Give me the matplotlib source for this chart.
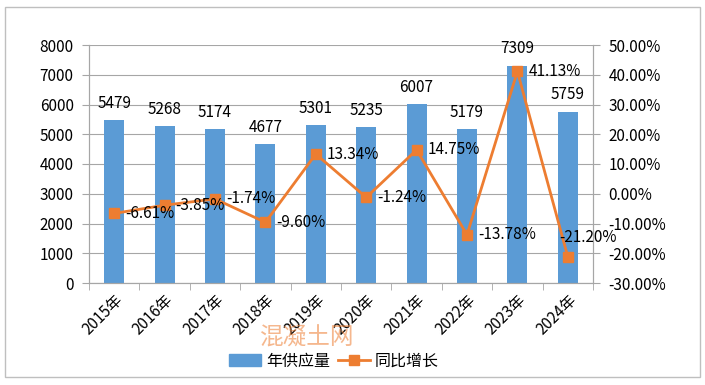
#!/usr/bin/env python3
"""Annual supply volume bars with year-on-year growth line."""

import matplotlib
matplotlib.use("Agg")
import matplotlib.pyplot as plt
from matplotlib.patches import Rectangle
from matplotlib.ticker import FuncFormatter, MultipleLocator

plt.rcParams["font.family"] = ["Noto Sans CJK SC", "DejaVu Sans"]

years = ["2015年", "2016年", "2017年", "2018年", "2019年",
         "2020年", "2021年", "2022年", "2023年", "2024年"]
supply = [5479, 5268, 5174, 4677, 5301, 5235, 6007, 5179, 7309, 5759]
growth = [-6.61, -3.85, -1.74, -9.60, 13.34, -1.24, 14.75, -13.78, 41.13, -21.20]

BAR = "#5B9BD5"
LINE = "#ED7D31"
GRID = "#A6A6A6"
FS = 11

fig = plt.figure(figsize=(7.05, 3.85), dpi=100)
fig.patches.append(Rectangle((5 / 705, 1 - 377 / 385), 695 / 705, 370 / 385,
                             transform=fig.transFigure, fill=False,
                             edgecolor="#BFBFBF", linewidth=1.0))

ax = fig.add_axes([89 / 705, 1 - 283 / 385, 504 / 705, 238 / 385])
ax2 = ax.twinx()

x = list(range(len(years)))
ax.bar(x, supply, width=0.4, color=BAR, zorder=2)
ax.set_xlim(-0.5, len(years) - 0.5)
ax.set_ylim(0, 8000)
ax.yaxis.set_major_locator(MultipleLocator(1000))
ax.grid(axis="y", color=GRID, linewidth=0.8, zorder=0)
ax.set_axisbelow(True)

ax.set_xticks(x)
ax.set_xticklabels(years, rotation=45, ha="right", rotation_mode="anchor", fontsize=FS)
ax.tick_params(axis="x", which="major", length=0, pad=6)
ax.set_xticks([i - 0.5 for i in range(len(years) + 1)], minor=True)
ax.tick_params(axis="x", which="minor", length=5, color=GRID)
ax.tick_params(axis="y", length=5, color=GRID, labelsize=FS, pad=6)

for s in ["top"]:
    ax.spines[s].set_visible(False)
    ax2.spines[s].set_visible(False)
for s in ["left", "right", "bottom"]:
    ax.spines[s].set_color(GRID)
    ax2.spines[s].set_color(GRID)

for xi, v in zip(x, supply):
    ax.annotate(str(v), (xi, v), xytext=(0, 6), textcoords="offset points",
                ha="center", va="bottom", fontsize=FS)

ax2.plot(x, growth, color=LINE, linewidth=2, marker="s", markersize=7.5, zorder=3)
ax2.set_ylim(-30, 50)
ax2.yaxis.set_major_locator(MultipleLocator(10))
ax2.yaxis.set_major_formatter(FuncFormatter(lambda v, p: f"{v:.2f}%"))
ax2.tick_params(axis="y", length=5, color=GRID, labelsize=FS, pad=6)

label_offsets = [(8, 0)] * 9 + [(-6, 14)]
for xi, g, off in zip(x, growth, label_offsets):
    ax2.annotate(f"{g:.2f}%", (xi, g), xytext=off, textcoords="offset points",
                 ha="left", va="center", fontsize=FS, zorder=4)

handles = [Rectangle((0, 0), 1, 1, color=BAR),
           plt.Line2D([], [], color=LINE, linewidth=2, marker="s", markersize=7.5)]
fig.legend(handles, ["年供应量", "同比增长"], loc="center",
           bbox_to_anchor=(334 / 705, 1 - 361 / 385), ncol=2, frameon=False,
           fontsize=FS + 0.5, handlelength=2.0, columnspacing=0.5, handletextpad=0.3)

fig.text(307 / 705, 1 - 338 / 385, "混凝土网", color=LINE, alpha=0.55,
         fontsize=17, ha="center", va="center")

fig.savefig("out.png", dpi=100)
